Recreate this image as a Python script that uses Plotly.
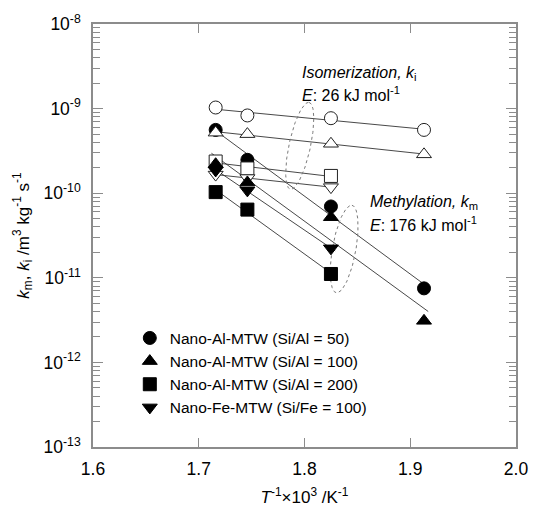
import numpy as np
import plotly.graph_objects as go

# ---------------- data ----------------
inv_T4 = [1.716, 1.746, 1.825, 1.913]          # T^-1 x 10^3 / K^-1
inv_T3 = [1.716, 1.746, 1.825]

# methylation rate constants k_m (filled symbols)
km_al50 = [5.6e-10, 2.48e-10, 6.97e-11, 7.5e-12]
km_al100 = [2.2e-10, 1.34e-10, 5.2e-11, 3.1e-12]
km_al200 = [1.03e-10, 6.4e-11, 1.11e-11]
km_fe100 = [1.86e-10, 1.08e-10, 2.23e-11]

# isomerization rate constants k_i (open symbols)
ki_al50 = [1.03e-9, 8.3e-10, 7.7e-10, 5.6e-10]
ki_al100 = [5.2e-10, 4.99e-10, 3.84e-10, 2.88e-10]
ki_al200 = [2.37e-10, 1.96e-10, 1.6e-10]
ki_fe100 = [1.66e-10, 1.51e-10, 1.18e-10]

names = ["Nano-Al-MTW (Si/Al = 50)", "Nano-Al-MTW (Si/Al = 100)",
         "Nano-Al-MTW (Si/Al = 200)", "Nano-Fe-MTW (Si/Fe = 100)"]
y_tick_exp = [-13, -12, -11, -10, -9, -8]
x_ticks = [1.6, 1.7, 1.8, 1.9, 2.0]

# ---------------- layout constants ----------------
W, H = 540, 516
ML, MR, MT, MB = 93, 13, 18, 60
X_RANGE = [1.6, 2.0]
Y_RANGE = [-13, -8]
PX_PER_X = (W - ML - MR) / (X_RANGE[1] - X_RANGE[0])
PX_PER_DEC = (H - MT - MB) / (Y_RANGE[1] - Y_RANGE[0])
FONT = "Liberation Sans, Arial, sans-serif"
AXC = "#8c8c8c"
LINEC = "#333333"

symbols = ["circle", "triangle-up", "square", "triangle-down"]
sizes = [13, 13, 13, 13]

fig = go.Figure()


def fit_line(x, y):
    lx = np.asarray(x, float)
    ly = np.log10(np.asarray(y, float))
    b, a = np.polyfit(lx, ly, 1)
    xs = np.array([lx.min() - 0.004, lx.max() + 0.004])
    return xs, 10 ** (a + b * xs)


km_sets = [(inv_T4, km_al50), (inv_T4, km_al100), (inv_T3, km_al200), (inv_T3, km_fe100)]
ki_sets = [(inv_T4, ki_al50), (inv_T4, ki_al100), (inv_T3, ki_al200), (inv_T3, ki_fe100)]

# regression lines
for xv, yv in km_sets + ki_sets:
    xs, ys = fit_line(xv, yv)
    fig.add_trace(go.Scatter(x=xs, y=ys, mode="lines", showlegend=False,
                             line=dict(color=LINEC, width=0.9), hoverinfo="skip"))


# dotted ellipses (annotation decoration), defined in data coords + pixel radii
def ellipse(xc, lyc, a_px, b_px, tilt_deg):
    t = np.linspace(0, 2 * np.pi, 120)
    th = np.deg2rad(tilt_deg)
    ux, uy = np.sin(th), np.cos(th)     # major-axis direction (px, up positive)
    vx, vy = np.cos(th), -np.sin(th)    # minor-axis direction
    dx = a_px * np.cos(t) * ux + b_px * np.sin(t) * vx
    dy = a_px * np.cos(t) * uy + b_px * np.sin(t) * vy
    return xc + dx / PX_PER_X, 10 ** (lyc + dy / PX_PER_DEC)


for xc, lyc, a, b, tilt in [(1.7955, -9.44, 46, 11, 12), (1.8375, -10.66, 46, 12, 10)]:
    ex, ey = ellipse(xc, lyc, a, b, tilt)
    fig.add_trace(go.Scatter(x=ex, y=ey, mode="lines", showlegend=False,
                             line=dict(color="#7a7a7a", width=1, dash="dot"), hoverinfo="skip"))

# markers: filled circles first, then open symbols, then other filled symbols
order = [("km", 0), ("ki", 0), ("ki", 1), ("ki", 2), ("ki", 3), ("km", 1), ("km", 2), ("km", 3)]
for kind, i in order:
    if kind == "km":
        xv, yv = km_sets[i]
        fig.add_trace(go.Scatter(
            x=xv, y=yv, mode="markers", name=names[i], legendrank=i + 1,
            marker=dict(symbol=symbols[i], size=sizes[i], color="black",
                        line=dict(color="black", width=1))))
    else:
        xv, yv = ki_sets[i]
        fig.add_trace(go.Scatter(
            x=xv, y=yv, mode="markers", showlegend=False,
            marker=dict(symbol=symbols[i], size=sizes[i], color="white",
                        line=dict(color="#222222", width=1))))

ann_font = dict(family=FONT, size=16, color="black")
annots = [
    (1.7955, -8.585, "<i>Isomerization, k</i><sub>i</sub>"),
    (1.7955, -8.83, "<i>E</i>: 26 kJ mol<sup>-1</sup>"),
    (1.860, -10.115, "<i>Methylation, k</i><sub>m</sub>"),
    (1.860, -10.365, "<i>E</i>: 176 kJ mol<sup>-1</sup>"),
]
for ax_, ay_, txt in annots:
    fig.add_annotation(x=ax_, y=ay_, xref="x", yref="y", text=txt, showarrow=False,
                       xanchor="left", yanchor="middle", font=ann_font)

minor_vals = [m * 10.0 ** e for e in y_tick_exp[:-1] for m in range(2, 10)]

fig.update_layout(
    width=W, height=H,
    margin=dict(l=ML, r=MR, t=MT, b=MB),
    paper_bgcolor="white", plot_bgcolor="white",
    font=dict(family=FONT, size=17, color="black"),
    showlegend=True,
    legend=dict(x=0.087, y=0.297, xanchor="left", yanchor="top",
                bgcolor="rgba(0,0,0,0)", font=dict(family=FONT, size=15.5),
                itemsizing="trace", tracegroupgap=0),
    xaxis=dict(range=X_RANGE, tickvals=x_ticks, ticktext=[f"{v:.1f}" for v in x_ticks],
               ticks="inside", ticklen=9, tickwidth=1, tickcolor=AXC,
               showline=True, linecolor=AXC, linewidth=1.5, mirror="ticks",
               showgrid=False, zeroline=False, ticklabelstandoff=5,
               tickfont=dict(size=17.5),
               title=dict(text="<i>T</i><sup>-1</sup>×10<sup>3</sup> /K<sup>-1</sup>",
                          font=dict(size=17), standoff=13)),
    yaxis=dict(type="log", range=Y_RANGE,
               tickvals=[10.0 ** e for e in y_tick_exp],
               ticktext=[f"10<sup>{e}</sup>" for e in y_tick_exp],
               ticks="inside", ticklen=10, tickwidth=1, tickcolor=AXC,
               minor=dict(tickvals=minor_vals, ticks="inside", ticklen=7,
                          tickcolor=AXC, tickwidth=1, showgrid=False),
               showline=True, linecolor=AXC, linewidth=1.5, mirror="ticks",
               showgrid=False, zeroline=False, ticklabelstandoff=7,
               tickfont=dict(size=17.5),
               title=dict(text="<i>k</i><sub>m</sub>, <i>k</i><sub>i</sub> /m<sup>3</sup> kg<sup>-1</sup> s<sup>-1</sup>",
                          font=dict(size=17), standoff=10)),
)

fig.write_html("out.html")
